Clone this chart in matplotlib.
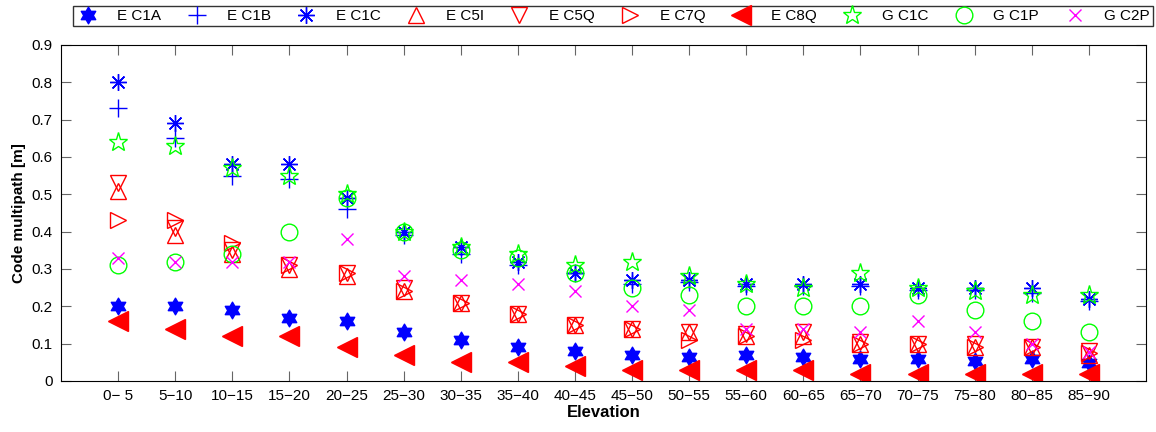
import numpy as np
import matplotlib
matplotlib.use('Agg')
import matplotlib.pyplot as plt
from matplotlib.path import Path

plt.rcParams['font.family'] = ['Liberation Sans', 'DejaVu Sans']

# elevation bins
bins = ['0\u2212 5', '5\u221210', '10\u221215', '15\u221220', '20\u221225', '25\u221230',
        '30\u221235', '35\u221240', '40\u221245', '45\u221250', '50\u221255', '55\u221260',
        '60\u221265', '65\u221270', '70\u221275', '75\u221280', '80\u221285', '85\u221290']

e_c1a = [0.20, 0.20, 0.19, 0.17, 0.16, 0.13, 0.11, 0.09, 0.08, 0.07, 0.063, 0.07, 0.063, 0.06, 0.06, 0.053, 0.06, 0.047]
e_c1b = [0.73, 0.65, 0.55, 0.54, 0.46, 0.39, 0.34, 0.31, 0.29, 0.26, 0.265, 0.255, 0.255, 0.255, 0.245, 0.245, 0.235, 0.215]
e_c1c = [0.80, 0.69, 0.58, 0.58, 0.49, 0.40, 0.36, 0.32, 0.29, 0.27, 0.27, 0.26, 0.26, 0.26, 0.25, 0.25, 0.25, 0.22]
e_c5i = [0.51, 0.39, 0.34, 0.30, 0.28, 0.24, 0.21, 0.18, 0.15, 0.14, 0.13, 0.12, 0.12, 0.10, 0.10, 0.09, 0.09, 0.07]
e_c5q = [0.53, 0.41, 0.35, 0.31, 0.29, 0.25, 0.21, 0.18, 0.15, 0.14, 0.13, 0.125, 0.13, 0.105, 0.10, 0.10, 0.09, 0.08]
e_c7q = [0.43, 0.43, 0.37, 0.31, 0.29, 0.24, 0.21, 0.18, 0.15, 0.14, 0.11, 0.12, 0.11, 0.10, 0.10, 0.09, 0.09, 0.075]
e_c8q = [0.16, 0.14, 0.12, 0.12, 0.09, 0.07, 0.05, 0.05, 0.04, 0.03, 0.03, 0.03, 0.03, 0.02, 0.02, 0.02, 0.02, 0.02]
g_c1c = [0.64, 0.63, 0.57, 0.55, 0.50, 0.40, 0.36, 0.34, 0.31, 0.32, 0.28, 0.26, 0.25, 0.29, 0.25, 0.24, 0.23, 0.23]
g_c1p = [0.31, 0.32, 0.34, 0.40, 0.49, 0.40, 0.35, 0.33, 0.29, 0.25, 0.23, 0.20, 0.20, 0.20, 0.23, 0.19, 0.16, 0.13]
g_c2p = [0.33, 0.32, 0.32, 0.32, 0.38, 0.28, 0.27, 0.26, 0.24, 0.20, 0.19, 0.14, 0.14, 0.13, 0.16, 0.13, 0.10, 0.077]

# hexagram (star of David) marker
ang = np.deg2rad(np.arange(12) * 30 + 90)
rad = np.where(np.arange(12) % 2 == 0, 1.0, 1 / np.sqrt(3))
hv = np.column_stack([rad * np.cos(ang), rad * np.sin(ang)])
hexagram = Path(np.vstack([hv, hv[:1]]), closed=True)

x = np.arange(1, len(bins) + 1)

fig = plt.figure(figsize=(11.56, 4.32), dpi=100)
ax = fig.add_axes([61 / 1156, 51 / 432, 1085 / 1156, 336 / 432])

series = [
    (e_c1a, 'E C1A', dict(marker=hexagram, color='b', mfc='b', ms=12)),
    (e_c1b, 'E C1B', dict(marker='+', color='b', ms=13, mew=1)),
    (e_c1c, 'E C1C', dict(marker=(8, 2, 0), color='b', ms=12, mew=1)),
    (e_c5i, 'E C5I', dict(marker='^', color='r', mfc='none', ms=12, mew=1)),
    (e_c5q, 'E C5Q', dict(marker='v', color='r', mfc='none', ms=12, mew=1)),
    (e_c7q, 'E C7Q', dict(marker='>', color='r', mfc='none', ms=12, mew=1)),
    (e_c8q, 'E C8Q', dict(marker='<', color='r', mfc='r', ms=14)),
    (g_c1c, 'G C1C', dict(marker='*', color=(0, 1, 0), mfc='none', ms=14, mew=1)),
    (g_c1p, 'G C1P', dict(marker='o', color=(0, 1, 0), mfc='none', ms=12, mew=1)),
    (g_c2p, 'G C2P', dict(marker='x', color=(1, 0, 1), ms=9, mew=1)),
]
for vals, lab, st in series:
    ax.plot(x, vals, linestyle='none', label=lab, **st)

ax.set_xlim(0, 19)
ax.set_ylim(0, 0.9)
ax.set_xticks(x)
ax.set_xticklabels(bins, fontsize=11)
ax.set_yticks(np.arange(0, 0.91, 0.1))
ax.set_yticklabels(['0'] + ['%.1f' % v for v in np.arange(0.1, 0.91, 0.1)], fontsize=11)
ax.tick_params(direction='in', length=7, top=True, right=True, color='0.4', pad=6)
ax.set_xlabel('Elevation', fontsize=12, fontweight='bold', labelpad=1)
ax.set_ylabel('Code multipath [m]', fontsize=11, fontweight='bold')

fig.legend(loc='lower left', bbox_to_anchor=(73 / 1156, 1 - 26 / 432, 1080 / 1156, 24 / 432),
           mode='expand', ncol=10, frameon=True, fancybox=False, edgecolor='k',
           fontsize=11, handlelength=1.5, handletextpad=1.2, borderpad=0.2,
           borderaxespad=0, columnspacing=1.0)

fig.savefig('out.png', dpi=100)
